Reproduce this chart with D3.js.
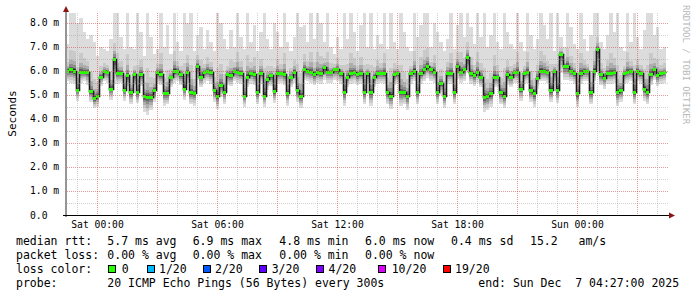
<!DOCTYPE html>
<html><head><meta charset="utf-8">
<script src="https://cdn.jsdelivr.net/npm/d3@7"></script>
<style>
html,body{margin:0;padding:0;background:#fff;}
svg{display:block;}
text{font-family:"DejaVu Sans Mono",monospace;white-space:pre;}
</style></head><body>
<svg id="c" width="697" height="297"></svg>
<script>
// ---------------- data ----------------
const startTime = Date.UTC(2025, 11, 5, 22, 27, 0);
const endTime = Date.UTC(2025, 11, 7, 4, 27, 0);
const stepMinutes = 10;

const medianRtt = [
 6.0,6.05,6.0,5.2,5.95,5.95,5.95,5.15,4.85,4.95,
 5.75,6.0,5.95,5.25,6.5,5.9,5.9,5.2,5.8,5.1,
 5.85,5.1,5.85,4.95,4.9,4.9,5.2,5.95,5.85,5.05,
 5.05,5.75,6.0,6.0,5.85,5.25,5.95,5.1,5.05,6.2,
 5.75,5.95,6.0,5.95,5.2,4.95,5.4,5.1,5.85,5.8,
 6.0,5.95,5.9,4.95,5.75,5.9,5.85,5.1,5.9,4.95,
 5.65,5.8,5.15,5.9,5.9,5.85,5.05,5.75,5.95,5.2,
 4.95,6.05,6.0,5.95,5.85,5.95,5.9,6.15,5.95,5.95,
 6.05,6.05,5.9,5.1,5.75,5.9,5.95,5.85,5.9,5.1,
 5.9,5.1,5.75,5.9,5.9,5.9,5.1,4.95,5.85,5.9,
 5.1,5.1,4.95,5.9,6.0,5.1,5.9,6.05,6.2,6.05,
 5.95,5.1,5.5,4.95,5.9,5.9,5.1,6.2,5.95,6.05,
 6.55,5.9,5.8,5.95,5.75,4.9,4.95,5.05,5.75,5.75,
 5.1,4.95,5.85,5.75,5.95,5.95,5.25,5.9,5.95,5.2,
 5.05,5.7,6.0,6.0,5.95,5.2,6.0,5.2,6.7,6.2,
 6.2,6.0,5.9,5.05,5.9,6.0,6.0,5.1,6.0,6.9,
 5.85,5.7,5.9,5.9,5.95,5.1,5.2,5.9,5.95,6.0,
 5.1,6.0,5.9,5.25,5.1,5.85,6.05,5.8,5.9,5.95
];
const smokeMax = [
 7.1,8.4,8.4,8.0,8.2,7.6,7.3,7.5,7.2,6.6,
 7.0,6.9,6.8,7.3,8.4,8.4,7.4,6.9,8.4,7.0,
 6.9,8.4,7.6,6.6,8.4,7.4,6.7,6.9,8.4,7.0,
 7.9,6.7,8.4,7.2,6.8,8.4,8.0,8.4,6.8,7.5,
 7.8,6.9,7.7,7.2,6.8,8.4,8.0,7.3,6.9,7.7,
 7.0,8.4,7.4,6.9,8.4,7.2,7.9,6.8,7.6,8.4,
 7.3,6.9,8.0,7.6,7.0,8.4,7.2,6.8,7.4,8.4,
 7.8,7.9,7.2,8.4,7.3,8.4,8.0,7.2,8.4,7.0,
 6.7,7.4,6.9,8.4,7.3,8.4,7.6,6.8,7.9,8.4,
 7.0,8.4,6.9,7.5,7.1,8.4,6.9,8.4,7.2,6.9,
 8.4,7.6,7.0,6.8,8.4,7.4,7.9,8.4,8.4,7.0,
 8.0,7.6,7.2,6.8,7.3,8.4,6.9,7.9,8.4,7.4,
 8.4,7.8,7.1,8.4,7.4,8.4,7.0,7.5,8.4,7.2,
 6.9,8.4,7.6,7.1,6.9,8.4,7.2,6.8,8.4,7.5,
 6.9,7.3,8.4,7.9,7.3,8.4,6.8,8.4,7.4,7.0,
 8.4,7.8,7.1,6.9,8.4,7.3,6.8,7.5,8.4,8.4,
 7.2,6.9,7.5,8.4,7.6,8.4,7.0,6.8,8.4,7.2,
 8.4,7.4,6.9,7.7,8.4,8.4,7.5,7.8,6.9,7.0
];
const smokeMin = [
 5.55,5.5,5.45,4.75,5.5,5.55,5.4,4.7,4.45,4.5,
 5.35,5.55,5.5,4.8,5.45,5.45,5.5,4.75,5.35,4.6,
 5.4,4.65,5.35,4.3,4.15,4.35,4.7,5.45,5.4,4.55,
 4.6,5.3,5.5,5.55,5.4,4.8,5.5,4.6,4.55,5.6,
 5.3,5.5,5.55,5.45,4.7,4.4,4.9,4.6,5.4,5.35,
 5.55,5.5,5.45,4.5,5.3,5.45,5.4,4.6,5.45,4.5,
 5.2,5.35,4.65,5.45,5.5,5.4,4.55,5.3,5.5,4.7,
 4.45,5.6,5.55,5.5,5.4,5.5,5.45,5.6,5.5,5.5,
 5.6,5.55,5.45,4.55,5.3,5.45,5.5,5.4,5.45,4.6,
 5.45,4.55,5.3,5.45,5.5,5.45,4.6,4.4,5.4,5.45,
 4.55,4.6,4.35,5.45,5.55,4.6,5.45,5.55,5.7,5.55,
 5.5,4.6,5.0,4.45,5.45,5.45,4.6,5.65,5.5,5.55,
 5.9,5.45,5.35,5.5,5.3,4.3,4.35,4.5,5.3,5.3,
 4.6,4.45,5.4,5.3,5.5,5.5,4.75,5.45,5.5,4.7,
 4.5,5.25,5.55,5.55,5.5,4.7,5.55,4.65,5.9,5.6,
 5.6,5.55,5.45,4.5,5.45,5.55,5.55,4.6,5.55,6.0,
 5.4,5.25,5.45,5.45,5.5,4.55,4.7,5.45,5.5,5.55,
 4.6,5.55,5.45,4.75,4.6,5.4,5.6,5.35,5.45,5.5
];

const yTickValues = [0, 1, 2, 3, 4, 5, 6, 7, 8];
const yTickLabels = ["0.0", "1.0 m", "2.0 m", "3.0 m", "4.0 m", "5.0 m", "6.0 m", "7.0 m", "8.0 m"];
const xTickTimes = [Date.UTC(2025,11,6,0,0), Date.UTC(2025,11,6,6,0), Date.UTC(2025,11,6,12,0), Date.UTC(2025,11,6,18,0), Date.UTC(2025,11,7,0,0)];
const xTickLabels = ["Sat 00:00", "Sat 06:00", "Sat 12:00", "Sat 18:00", "Sun 00:00"];

const lossLabels = ["0", "1/20", "2/20", "3/20", "4/20", "10/20", "19/20"];
const lossColors = ["#26ff00", "#00b8ff", "#0059ff", "#5e00ff", "#7e00ff", "#dd00ff", "#ff0000"];
const rttStats = ["5.7 ms avg", "6.9 ms max", "4.8 ms min", "6.0 ms now", "0.4 ms sd", "15.2   am/s"];
const lossStats = ["0.00 % avg", "0.00 % max", "0.00 % min", "0.00 % now"];
const probeText = "20 ICMP Echo Pings (56 Bytes) every 300s";
const endText = "end: Sun Dec  7 04:27:00 2025";

// ---------------- layout ----------------
const svg = d3.select("#c");
const L = 66, R = 666, B = 215, T = 13;
const x = d3.scaleUtc().domain([startTime, endTime]).range([L, R]);
const y = d3.scaleLinear().domain([0, 8]).range([B, 22.5]);
const stepMs = stepMinutes * 60000;

svg.append("defs").append("clipPath").attr("id", "pc")
  .append("rect").attr("x", L + 1).attr("y", T).attr("width", R - L).attr("height", B - T);

const plot = svg.append("g").attr("clip-path", "url(#pc)");

const pts = medianRtt.map((m, i) => ({
  t: startTime + i * stepMs, m, hi: smokeMax[i], lo: smokeMin[i]
}));
const px = t => Math.round(x(t));

// smoke layers (outer light -> inner dark)
const layers = [
  { up: 1.0, dn: 1.0, c: "#dcdcdc" },
  { up: 0.34, dn: 0.78, c: "#c9c9c9" },
  { up: 0.17, dn: 0.58, c: "#adadad" },
  { up: 0.09, dn: 0.4, c: "#8c8c8c" },
  { up: 0.045, dn: 0.24, c: "#626262" },
  { up: 0.02, dn: 0.11, c: "#3c3c3c" }
];
layers.forEach(ly => {
  plot.append("g").selectAll("rect").data(pts).join("rect")
    .attr("shape-rendering", "crispEdges")
    .attr("x", d => px(d.t))
    .attr("width", d => px(d.t + stepMs) - px(d.t))
    .attr("y", d => y(d.m + ly.up * (d.hi - d.m)))
    .attr("height", d => y(d.m - ly.dn * (d.m - d.lo)) - y(d.m + ly.up * (d.hi - d.m)))
    .attr("fill", ly.c);
});

// median line
const linePts = pts.concat([{ t: endTime, m: medianRtt[medianRtt.length - 1] }]);
plot.append("path")
  .attr("d", d3.line().x(d => px(d.t) + 0.5).y(d => Math.round(y(d.m)) + 0.5).curve(d3.curveStepAfter)(linePts))
  .attr("fill", "none").attr("stroke", "#1a1a1a").attr("stroke-width", 1.6);

// loss colour band (all 0 loss)
plot.append("g").selectAll("rect").data(pts).join("rect")
  .attr("shape-rendering", "crispEdges")
  .attr("x", d => px(d.t))
  .attr("width", d => px(d.t + stepMs) - px(d.t))
  .attr("y", d => Math.round(y(d.m)) - 1)
  .attr("height", 3)
  .attr("fill", lossColors[0]);

// grid (on top, translucent, dotted)
const gridG = svg.append("g").attr("shape-rendering", "crispEdges");
const halfTicks = d3.range(0.5, 8.5, 0.5).filter(v => v % 1 !== 0);
gridG.selectAll(".hmin").data(halfTicks).join("line")
  .attr("x1", L + 1).attr("x2", R + 2)
  .attr("y1", d => Math.round(y(d)) + 0.5).attr("y2", d => Math.round(y(d)) + 0.5)
  .attr("stroke", "rgba(150,150,150,0.45)").attr("stroke-dasharray", "1,1");
gridG.selectAll(".hmaj").data(yTickValues.filter(v => v > 0)).join("line")
  .attr("x1", L + 1).attr("x2", R + 2)
  .attr("y1", d => Math.round(y(d)) + 0.5).attr("y2", d => Math.round(y(d)) + 0.5)
  .attr("stroke", "rgba(210,70,70,0.55)").attr("stroke-dasharray", "1,1");
const hours = d3.utcHour.range(new Date(startTime), new Date(endTime));
gridG.selectAll(".v").data(hours).join("line")
  .attr("x1", d => px(d) + 0.5).attr("x2", d => px(d) + 0.5)
  .attr("y1", T).attr("y2", B)
  .attr("stroke", d => d.getUTCHours() % 3 === 0 ? "rgba(210,70,70,0.55)" : "rgba(150,150,150,0.45)")
  .attr("stroke-dasharray", "1,1");

// axes
svg.append("line").attr("x1", L).attr("x2", L).attr("y1", B + 2).attr("y2", 10)
  .attr("stroke", "#2c2c2c").attr("stroke-width", 1);
svg.append("line").attr("x1", L - 3).attr("x2", R + 4).attr("y1", B + 0.5).attr("y2", B + 0.5)
  .attr("stroke", "#000").attr("stroke-width", 1).attr("shape-rendering", "crispEdges");
svg.append("path").attr("d", `M${L - 3},12 L${L},6 L${L + 3},12 Z`).attr("fill", "#8b1414");
svg.append("path").attr("d", `M${R + 3},${B - 2.5} L${R + 9},${B + 0.5} L${R + 3},${B + 3.5} Z`).attr("fill", "#8b1414");

// y tick labels
svg.append("g").selectAll("text").data(yTickValues).join("text")
  .attr("x", 30).attr("y", d => y(d) + 3.5)
  .attr("font-size", "9.7px").attr("fill", "#000")
  .text((d, i) => yTickLabels[i]);

// x tick labels
svg.append("g").selectAll("text").data(xTickTimes).join("text")
  .attr("x", d => x(d) + 0.5).attr("y", 228)
  .attr("text-anchor", "middle")
  .attr("font-size", "9.7px").attr("fill", "#000")
  .text((d, i) => xTickLabels[i]);

// y title
svg.append("text").attr("transform", "translate(16,113.5) rotate(-90)")
  .attr("text-anchor", "middle").attr("font-size", "11px").attr("fill", "#000")
  .text("Seconds");

// watermark
svg.append("text").attr("transform", "translate(683,5) rotate(90)")
  .attr("font-size", "9px").attr("fill", "#b8b8b8")
  .text("RRDTOOL / TOBI OETIKER");

// legend
const lg = svg.append("g").attr("font-size", "11.5px").attr("fill", "#000");
const row = (yy, label) => lg.append("text").attr("x", 16).attr("y", yy).text(label);
row(244.5, "median rtt:");
[107.3, 192.7, 279.3, 365, 451, 530].forEach((xx, i) =>
  lg.append("text").attr("x", xx).attr("y", 244.5).text(rttStats[i]));
row(258.8, "packet loss:");
[107.3, 192.7, 279.3, 365].forEach((xx, i) =>
  lg.append("text").attr("x", xx).attr("y", 258.8).text(lossStats[i]));
row(273, "loss color:");
const boxX = [108, 146.7, 202.7, 259.3, 316, 378.3, 442.7];
const labX = [121.7, 159, 215, 271.7, 328.5, 391.7, 455];
lossLabels.forEach((lab, i) => {
  lg.append("rect").attr("x", Math.round(boxX[i]) + 0.5).attr("y", 265.5).attr("width", 7).attr("height", 7)
    .attr("fill", lossColors[i]).attr("stroke", "#000").attr("stroke-width", 1);
  lg.append("text").attr("x", labX[i]).attr("y", 273).text(lab);
});
row(287.3, "probe:");
lg.append("text").attr("x", 107.3).attr("y", 287.3).text(probeText);
lg.append("text").attr("x", 478.3).attr("y", 287.3).text(endText);
</script>
</body></html>
